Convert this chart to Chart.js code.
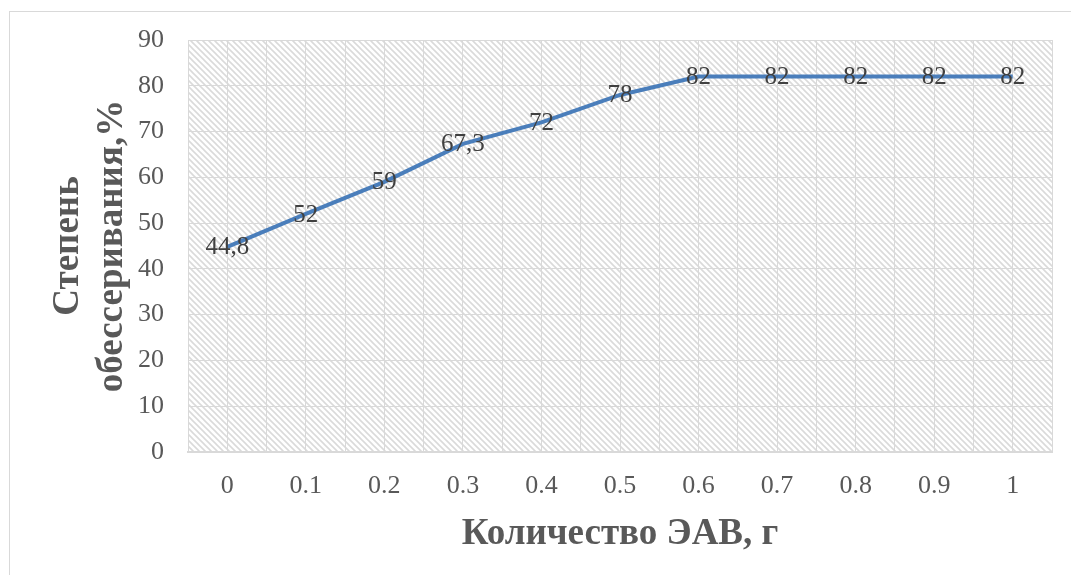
<!DOCTYPE html>
<html>
<head>
<meta charset="utf-8">
<script src="https://cdn.jsdelivr.net/npm/chart.js@4.4.0/dist/chart.umd.min.js"></script>
<style>
  body { margin: 0; background: #fff; }
  #wrap { position: relative; width: 1071px; height: 575px; }
  #frame { position: absolute; left: 9px; top: 11px; right: -5px; bottom: -5px; border: 1px solid #d9d9d9; }
</style>
</head>
<body>
<div id="wrap">
  <div id="frame"></div>
  <canvas id="chart" width="1071" height="575"></canvas>
</div>
<script>
// количество ЭАВ, г
const amounts = [0, 0.1, 0.2, 0.3, 0.4, 0.5, 0.6, 0.7, 0.8, 0.9, 1];
// степень обессеривания, %
const degree = [44.8, 52, 59, 67.3, 72, 78, 82, 82, 82, 82, 82];
const yTicks = [0, 10, 20, 30, 40, 50, 60, 70, 80, 90];

const serif = "'Liberation Serif', 'Times New Roman', serif";

// штриховка фона области построения
function makeHatch() {
  const s = 6;
  const c = document.createElement("canvas");
  c.width = s; c.height = s;
  const g = c.getContext("2d");
  g.fillStyle = "#ffffff";
  g.fillRect(0, 0, s, s);
  g.strokeStyle = "#dadada";
  g.lineWidth = 1.6;
  g.beginPath();
  g.moveTo(-1, -1); g.lineTo(s + 1, s + 1);
  g.moveTo(-1, s - 1); g.lineTo(1, s + 1);
  g.moveTo(s - 1, -1); g.lineTo(s + 1, 1);
  g.stroke();
  return c;
}

const hatchBg = {
  id: "hatchBg",
  beforeDraw(chart) {
    const { ctx, chartArea: a } = chart;
    ctx.save();
    ctx.fillStyle = ctx.createPattern(makeHatch(), "repeat");
    ctx.fillRect(a.left, a.top, a.right - a.left, a.bottom - a.top);
    ctx.restore();
  }
};

const pointLabels = {
  id: "pointLabels",
  afterDatasetsDraw(chart) {
    const { ctx } = chart;
    const meta = chart.getDatasetMeta(0);
    ctx.save();
    ctx.font = "25px " + serif;
    ctx.fillStyle = "#404040";
    ctx.textAlign = "center";
    ctx.textBaseline = "middle";
    meta.data.forEach((pt, i) => {
      const txt = String(degree[i]).replace(".", ",");
      ctx.fillText(txt, pt.x, pt.y + 1);
    });
    ctx.restore();
  }
};

new Chart(document.getElementById("chart"), {
  type: "line",
  data: {
    datasets: [{
      data: amounts.map((x, i) => ({ x: x, y: degree[i] })),
      borderColor: "#4a7ebb",
      borderWidth: 4,
      pointRadius: 0,
      tension: 0
    }]
  },
  options: {
    responsive: false,
    animation: false,
    layout: { padding: { top: 40, right: 5, left: 0, bottom: 0 } },
    plugins: { legend: { display: false }, tooltip: { enabled: false } },
    scales: {
      x: {
        type: "linear",
        min: -0.05,
        max: 1.05,
        afterBuildTicks(scale) {
          const t = [];
          for (let i = -1; i <= 21; i++) t.push({ value: Math.round(i * 5) / 100 });
          scale.ticks = t;
        },
        afterFit(scale) { scale.height = 123; },
        grid: { color: "#d9d9d9", lineWidth: 1, drawTicks: false },
        border: { color: "#d9d9d9", width: 2 },
        ticks: {
          padding: 19,
          autoSkip: false,
          maxRotation: 0,
          color: "#595959",
          font: { family: serif, size: 26 },
          callback(v) {
            const k = Math.round(v * 100);
            if (k < 0 || k > 100 || k % 10 !== 0) return "";
            return String(k / 100);
          }
        },
        title: {
          display: true,
          text: "Количество ЭАВ, г",
          color: "#595959",
          font: { family: serif, size: 37, weight: "bold", lineHeight: 1.2 },
          padding: { top: 0, bottom: 18 }
        }
      },
      y: {
        min: 0,
        max: 90,
        afterBuildTicks(scale) { scale.ticks = yTicks.map(v => ({ value: v })); },
        afterFit(scale) { scale.width = 188; },
        grid: { color: "#d9d9d9", lineWidth: 1, drawTicks: false },
        border: { display: false },
        ticks: {
          padding: 24,
          color: "#595959",
          font: { family: serif, size: 26 }
        },
        title: {
          display: true,
          text: ["Степень", "обессеривания,%"],
          color: "#595959",
          font: { family: serif, size: 37, weight: "bold", lineHeight: 1.2 },
          padding: { top: 46 }
        }
      }
    }
  },
  plugins: [hatchBg, pointLabels]
});
</script>
</body>
</html>
